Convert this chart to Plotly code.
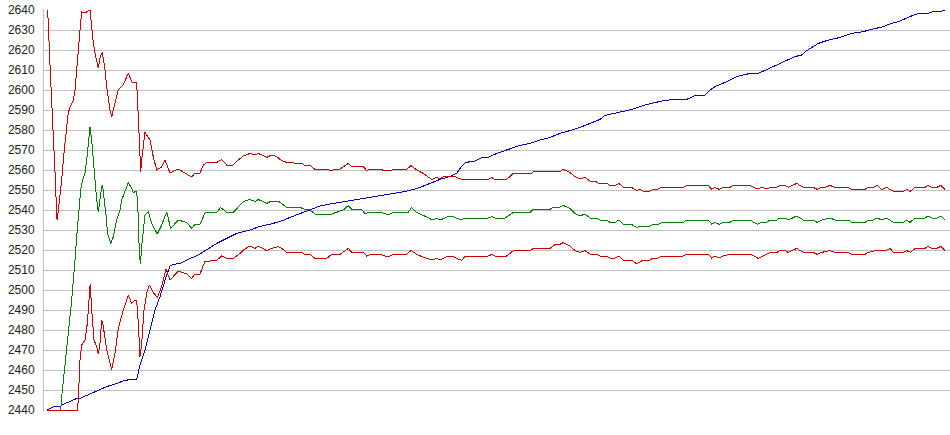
import plotly.graph_objects as go

# Sample position (0..900 across the plot) and value
upper_red = [
    (2, 2640), (3.3, 2635), (4.3, 2620), (6, 2603.5), (7.3, 2590), (8.3, 2580), (9.3, 2566.5),
    (10.7, 2551.5), (11.7, 2536), (12.3, 2535), (13.3, 2540), (15, 2546.5), (16.7, 2555),
    (18.3, 2565), (20, 2575), (21.7, 2581.5), (23.3, 2588.5), (25, 2591.5), (28.3, 2595),
    (30, 2600), (31.7, 2610), (33.3, 2621.5), (35, 2630), (36.7, 2639), (40, 2638.5),
    (45, 2640), (46.7, 2630), (48.3, 2623.5), (50, 2618.5), (53.3, 2611), (55, 2616),
    (57.3, 2619), (60, 2610), (61.7, 2601.5), (65, 2590), (66.7, 2586.5), (70, 2593.5),
    (73.3, 2600), (78.3, 2602.5), (83.3, 2608.5), (86.7, 2604), (91.7, 2603.5), (93.3, 2586.5),
    (95, 2560), (95.7, 2559), (96.7, 2565), (98.3, 2573.5), (100, 2579), (101.7, 2577.5),
    (105, 2575), (108.3, 2566.5), (111.7, 2560), (116.7, 2561.5), (120, 2565), (125, 2558.5),
    (133.3, 2560.5), (138.3, 2559), (146.7, 2556.5), (150, 2558.5), (155, 2558.5),
    (158.3, 2562.5), (161.7, 2563.7), (171.7, 2563.7), (176.7, 2565.3), (181.7, 2562.5),
    (188.3, 2562.5), (193.3, 2565), (198.3, 2567), (205, 2568.3), (210, 2567.5), (213.3, 2568.3),
    (221.7, 2566.3), (226.7, 2567.5), (231.7, 2566.7), (235, 2565.3), (241.7, 2563.7),
    (256.7, 2563.3), (260, 2562.3), (265, 2562.3), (270, 2560.3), (281.7, 2560.3),
    (286.7, 2559.5), (290, 2560.5), (295, 2560.5), (303.3, 2563.3), (306.7, 2561.7),
    (318.3, 2561.7), (321.7, 2559.7), (325, 2560.3), (335, 2560.3), (340, 2559.7), (345, 2559.7),
    (348.3, 2560.3), (361.7, 2560.3), (366, 2562.2), (371.7, 2560), (378.3, 2558.3),
    (383.3, 2556.3), (386.7, 2555.3), (391.7, 2556.3), (395, 2555.7), (400, 2557), (408.3, 2557),
    (411.7, 2556.3), (416.7, 2555.3), (443.3, 2555.3), (446.7, 2556.2), (450, 2555.3),
    (461.7, 2555.3), (468.3, 2558.3), (486.7, 2558.3), (488.3, 2559.3), (515, 2559.3),
    (518.3, 2560.3), (525, 2558.7), (530, 2556.7), (535, 2555.5), (540, 2556.3), (545, 2554.5),
    (550, 2554.5), (553.3, 2553.3), (561.7, 2553.3), (565, 2552.3), (570, 2552.3), (574, 2553.3),
    (578.3, 2551.3), (586.7, 2551.3), (591.7, 2549.7), (595, 2550.3), (598.3, 2549.5),
    (605, 2549.5), (608.3, 2550.3), (611.7, 2550.3), (616.7, 2551.3), (638.3, 2551.3),
    (641.7, 2552.3), (663.3, 2552.3), (666.7, 2550.3), (670, 2551.3), (674.3, 2550.3),
    (678.3, 2551.3), (685, 2551.3), (688.3, 2552.3), (705, 2552.3), (711.7, 2550.5),
    (716.7, 2551.3), (721.7, 2550.5), (725, 2551.3), (731.7, 2551.3), (735, 2552.3),
    (740, 2552.3), (743.3, 2551.3), (751.7, 2553.3), (758.3, 2551.3), (768.3, 2551.3),
    (772.3, 2550.3), (776.7, 2551.3), (780, 2551.3), (785, 2552.3), (790, 2551.3),
    (803.3, 2551.3), (806.7, 2550.3), (820, 2550.3), (823.3, 2551.3), (828.3, 2551.3),
    (832.3, 2552.3), (836.7, 2550.3), (841.7, 2551.3), (845, 2550.3), (848.3, 2549.3),
    (858.3, 2549.3), (861.7, 2550.3), (865, 2549.3), (870, 2551.3), (880, 2551.3),
    (883.3, 2552.3), (886.7, 2551.3), (891.7, 2551.3), (895.7, 2552.3), (900, 2550.3),
]

green_mid = [
    (2, 2440), (15.7, 2440), (16.7, 2446.7), (19, 2459.2), (21, 2468.5), (23.3, 2478.5),
    (26.7, 2495), (28.3, 2503.5), (30, 2515), (31.7, 2526.7), (33.3, 2536.7), (35, 2545),
    (35.7, 2550), (37.7, 2555), (40, 2558.3), (41.7, 2565), (43.3, 2575), (45, 2581.5),
    (46.7, 2575), (48.3, 2565), (50, 2551.5), (51.7, 2545), (53.3, 2539), (55, 2546.5),
    (56.7, 2551.5), (57.5, 2552.5), (58.3, 2547.5), (60, 2541.5), (61.7, 2535), (62.3, 2528.3),
    (66, 2523.3), (68.3, 2526.7), (71.7, 2535), (75, 2540), (76.7, 2545), (80, 2549),
    (83.3, 2553.7), (86.7, 2550.8), (88.3, 2548.7), (91.7, 2549.5), (93.3, 2536.7),
    (94.3, 2518.3), (95.5, 2513), (96.7, 2522), (98.3, 2530), (100, 2537.5), (103.3, 2539),
    (106.7, 2533.3), (112.3, 2528), (116.7, 2532.5), (121.7, 2539), (125.7, 2530.8),
    (133.3, 2535), (141.7, 2533.7), (146.7, 2530.8), (150, 2532.8), (155, 2532.8),
    (160, 2538.5), (171.7, 2538.8), (175.5, 2541.3), (181.7, 2538.8), (188.3, 2538.8),
    (198.3, 2544.2), (205, 2545.3), (210, 2544.2), (213.3, 2545.3), (221.7, 2543.3),
    (226.7, 2544.5), (233.3, 2544.5), (238.3, 2542.5), (241.7, 2541.3), (255, 2541.3),
    (260, 2540.3), (265, 2540), (270, 2538), (286.7, 2538), (291.7, 2538.8), (298.3, 2540),
    (303.3, 2542.2), (306.7, 2540.3), (316.7, 2540.3), (320, 2538), (323.3, 2538.8),
    (336.7, 2538.8), (341, 2538), (345, 2538), (348.3, 2538.8), (363.3, 2538.8),
    (366.3, 2541.2), (371.7, 2538.8), (376.7, 2537.5), (383.3, 2536.3), (386.7, 2535),
    (391.7, 2535.8), (395, 2535), (403.3, 2536.7), (408.3, 2536.7), (411.7, 2535.8),
    (416.7, 2535), (420, 2536), (443.3, 2536), (446.7, 2536.7), (450, 2536), (460, 2536),
    (468.3, 2538.8), (485, 2538.8), (488.3, 2540.3), (505, 2540.3), (508.3, 2541.3),
    (514.3, 2541.3), (518.3, 2542.3), (525, 2540.7), (530, 2538.3), (535, 2537), (540, 2538),
    (545, 2536), (551.7, 2536), (555, 2535), (561.7, 2535), (565, 2533.8), (570, 2533.8),
    (574, 2535), (578.3, 2532.8), (586.7, 2532.8), (591.7, 2531.2), (595, 2532), (605, 2532),
    (608.3, 2532.8), (613.3, 2532.8), (616.7, 2533.8), (638.3, 2533.8), (641.7, 2535),
    (663.3, 2535), (666.7, 2533), (670, 2533.8), (674.3, 2532.8), (678.3, 2533.8), (685, 2533.8),
    (688.3, 2535), (705, 2535), (712.3, 2532.8), (716.7, 2533.8), (721.7, 2533.8), (725, 2535),
    (731.7, 2535), (735, 2536), (740, 2536), (743.3, 2535), (751.7, 2537), (758.3, 2535),
    (768.3, 2535), (772.3, 2533.8), (776.7, 2535), (785, 2536), (790, 2535), (803.3, 2535),
    (806.7, 2533.8), (820, 2533.8), (823.3, 2535), (828.3, 2535), (832.3, 2536), (836.7, 2535),
    (841.7, 2536), (845, 2535), (848.3, 2533.8), (858.3, 2533.8), (861.7, 2535), (865, 2533.8),
    (870, 2536), (880, 2536), (883.3, 2537), (886.7, 2536), (891.7, 2536), (895.7, 2537),
    (900, 2535),
]

lower_red = [
    (2, 2440), (32.3, 2440), (33.3, 2445), (35, 2465), (36.7, 2472.5), (40, 2475),
    (42.3, 2483.3), (43.5, 2492), (45.2, 2503), (46.7, 2490), (47.7, 2485), (49, 2475),
    (51.7, 2471.7), (53.3, 2468), (55, 2473.3), (56.7, 2485), (58.3, 2481.7), (61.7, 2470),
    (66.7, 2460), (70, 2468.3), (73.3, 2480.8), (78.3, 2490), (83.3, 2497.5), (86.7, 2493.3),
    (90, 2495), (91.7, 2495), (93.3, 2483.3), (95, 2466.7), (96.7, 2473.3), (99, 2490),
    (101.7, 2498.3), (104.3, 2502.5), (108.3, 2498.7), (112.3, 2496.3), (116.7, 2501.7),
    (121, 2510.3), (125, 2505), (133.3, 2509.5), (141.7, 2508), (146.7, 2505.8), (150, 2508),
    (155, 2508), (160, 2514.3), (171.7, 2514.8), (176.7, 2517), (181.7, 2515.8), (188.3, 2515.8),
    (195, 2518.3), (198.3, 2520), (205, 2522), (210, 2520.8), (213.3, 2522), (221.7, 2519.7),
    (226.7, 2520.8), (233.3, 2521.7), (238.3, 2520.3), (241.7, 2518.8), (256.7, 2518.8),
    (260, 2517.8), (265, 2517.8), (270, 2515.8), (281.7, 2515.8), (286.7, 2517.8),
    (295, 2517.8), (303.3, 2520.8), (306.7, 2518.8), (318.3, 2518.8), (321.7, 2517),
    (325, 2517.8), (335, 2517.8), (340, 2517), (345, 2517), (348.3, 2517.8), (361.7, 2517.8),
    (366, 2519.8), (371.7, 2517.8), (378.3, 2516.4), (386.7, 2515), (391.7, 2515.8),
    (395, 2515), (401.7, 2516.7), (408.3, 2516.7), (411.7, 2515.8), (416.7, 2514.8),
    (420, 2516.8), (443.3, 2517), (446.7, 2517.8), (450, 2517), (461.7, 2517),
    (468.3, 2519.7), (485, 2519.7), (488.3, 2520.8), (505, 2520.8), (510, 2522.7),
    (514.3, 2522.7), (518.3, 2523.7), (525, 2522), (530, 2519.7), (535, 2518.8), (540, 2519.7),
    (545, 2518), (551.7, 2518), (555, 2517), (561.7, 2517), (565, 2516), (570, 2516),
    (574, 2517), (578.3, 2515), (586.7, 2515), (591.7, 2513), (595, 2514), (598.3, 2515),
    (605, 2515), (608.3, 2516), (613.3, 2516), (616.7, 2517), (638.3, 2517), (641.7, 2518),
    (663.3, 2518), (666.7, 2516), (670, 2517), (674.3, 2516), (678.3, 2517), (685, 2518),
    (705, 2518), (713.3, 2515.8), (718.3, 2517), (725, 2518.8), (731.7, 2518.8), (735, 2519.7),
    (740, 2519.7), (743.3, 2518.8), (751.7, 2520.8), (758.3, 2518.8), (768.3, 2518.8),
    (772.3, 2517.8), (776.7, 2518.8), (785, 2519.7), (790, 2518.8), (803.3, 2518.8),
    (806.7, 2517.8), (820, 2517.8), (823.3, 2518.8), (831.7, 2519.8), (841.7, 2519.8),
    (845, 2520.8), (848.3, 2518.8), (858.3, 2518.8), (861.7, 2519.7), (865.7, 2518.8),
    (870, 2520.8), (880, 2520.8), (883.3, 2521.8), (886.7, 2520.8), (891.7, 2520.8),
    (895.7, 2521.8), (900, 2519.7),
]

blue_line = [
    (2, 2440), (5, 2440.8), (10, 2442), (15.7, 2442), (20, 2443.3), (25, 2444.2),
    (31.7, 2445.8), (35, 2445.8), (45, 2448), (50, 2448.8), (55, 2450), (61.7, 2451.7),
    (70, 2453), (78.3, 2454.5), (85, 2455.3), (91.7, 2455.3), (95, 2462.5), (100, 2470),
    (105, 2480), (110, 2490), (115, 2496.7), (118.3, 2502.5), (121.7, 2507.5), (125, 2512),
    (128.3, 2512.8), (135, 2513.3), (141.7, 2515), (153.3, 2517.5), (161.7, 2520),
    (171.7, 2523.3), (181.7, 2525.8), (191.7, 2528.3), (205, 2530), (215, 2531.8),
    (225, 2532.9), (235, 2534.2), (245, 2536.3), (255, 2538.2), (265, 2540), (275, 2542),
    (285, 2543), (295, 2543.8), (305, 2544.8), (315, 2545.3), (325, 2546.3), (335, 2546.9),
    (345, 2547.9), (355, 2548.8), (365, 2549.8), (375, 2551.3), (385, 2553.3), (395, 2555.3),
    (405, 2556.8), (411.7, 2558.3), (415, 2560.8), (420, 2563.5), (425, 2564.2), (430, 2564.5),
    (436.7, 2566.2), (443.3, 2566.3), (451.7, 2568.3), (461.7, 2570), (475, 2572.3),
    (485, 2573.3), (495, 2575), (505, 2576.3), (515, 2578.3), (525, 2579.7), (535, 2581.3),
    (545, 2583.3), (555, 2585.3), (560, 2587.3), (570, 2588.3), (580, 2589.5), (590, 2590.8),
    (600, 2592.5), (608.3, 2593.5), (616.7, 2594.5), (628.3, 2595.3), (641.7, 2595.3),
    (650, 2597.2), (660, 2597.5), (665, 2600), (670, 2601.7), (681.7, 2604.2), (691.7, 2606.7),
    (698.3, 2607.5), (705, 2608.3), (713.3, 2608.3), (721.7, 2610.3), (731.7, 2612.5),
    (741.7, 2615), (750, 2616.7), (756.7, 2617.5), (761.7, 2619.7), (768.3, 2621.7),
    (773.3, 2623.3), (781.7, 2624.7), (788.3, 2625.5), (795, 2626.3), (806.7, 2628.3),
    (818.3, 2629.2), (826.7, 2630.3), (838.3, 2631.7), (845, 2633), (855, 2634.5),
    (865, 2636.7), (873.3, 2638.3), (883.3, 2638.3), (888.3, 2639.2), (896.7, 2639.5),
    (900, 2640),
]

y_ticks = list(range(2440, 2641, 10))

series = [
    (blue_line, "#0000cc"),
    (green_mid, "#008000"),
    (upper_red, "#cc0000"),
    (lower_red, "#cc0000"),
]

fig = go.Figure()
for pts, col in series:
    xs = [p[0] for p in pts]
    ys = [p[1] for p in pts]
    fig.add_trace(go.Scatter(x=xs, y=ys, mode="lines",
                             line=dict(color=col, width=1), hoverinfo="skip",
                             showlegend=False))

fig.update_layout(
    width=950, height=435,
    margin=dict(l=44, r=0, t=9, b=24, pad=0),
    paper_bgcolor="white", plot_bgcolor="white",
    font=dict(family="Liberation Sans, Arial, sans-serif", size=12, color="#222222"),
    xaxis=dict(range=[-1, 905], showgrid=False, zeroline=False, showticklabels=False,
               ticks="", showline=False, fixedrange=True),
    yaxis=dict(range=[2439.5, 2640.5], tickvals=y_ticks,
               ticktext=[str(v) for v in y_ticks],
               showgrid=True, gridcolor="#c0c0c0", gridwidth=1, zeroline=False,
               showline=True, linecolor="#c0c0c0", linewidth=1, ticks="",
               ticklabelstandoff=6, fixedrange=True),
)

fig.write_html(
    "out.html",
    config={"displayModeBar": False},
    post_script=(
        "document.body.style.margin='0';document.body.style.overflow='hidden';"
        "var s=document.createElement('style');"
        "s.textContent='.scatterlayer path.js-line{shape-rendering:crispEdges;}';"
        "document.head.appendChild(s);"
    ),
)
